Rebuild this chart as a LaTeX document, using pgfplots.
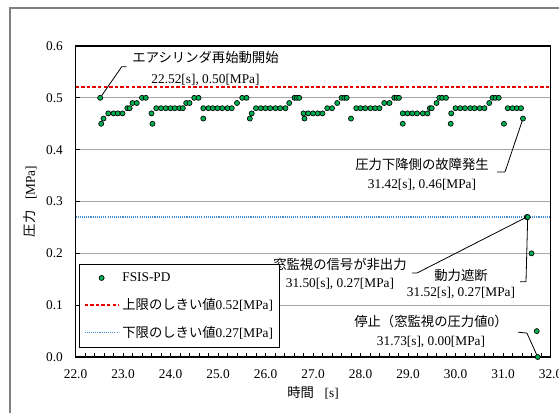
\documentclass[border=0pt]{standalone}
\usepackage{fontspec}
\setmainfont{Liberation Serif}
\newfontfamily\cjk{Noto Sans CJK JP}
\usepackage{pgfplots}
\pgfplotsset{compat=1.18}
\definecolor{markgreen}{RGB}{0,176,80}
\definecolor{upred}{RGB}{230,0,0}
\definecolor{lowblue}{RGB}{70,140,210}
\begin{document}
\begin{tikzpicture}
\useasboundingbox (0pt,0pt) rectangle (419.25pt,309pt);
\draw[black!50, line width=1.5pt] (7.5pt,-2pt) -- (7.5pt,303pt) -- (421pt,303pt);
\begin{axis}[
  at={(56.625pt,41.25pt)}, anchor=south west,
  width=356.25pt, height=233.25pt, scale only axis,
  xmin=22, xmax=32, ymin=0, ymax=0.6,
  xtick={22,23,24,25,26,27,28,29,30,31,32},
  ytick={0,0.1,0.2,0.3,0.4,0.5,0.6},
  minor x tick num=4,
  xtick pos=bottom, ytick pos=left,
  tick align=inside,
  major tick length=3pt, minor tick length=3pt,
  tick style={black, line width=0.6pt},
  ymajorgrids, grid style={black!35, line width=0.8pt},
  axis line style={line width=1pt},
  /pgf/number format/assume math mode=true,
  /pgf/number format/fixed,
  /pgf/number format/fixed zerofill,
  /pgf/number format/precision=1,
  ticklabel style={font=\fontsize{10}{12}\selectfont},
  xticklabel style={yshift=-6pt},
  yticklabel style={xshift=-6pt},
  xlabel={{\cjk 時間}\hspace{0.8em}[s]},
  ylabel={{\cjk 圧力}\hspace{0.8em}[MPa]},
  label style={font=\fontsize{11}{13}\selectfont},
  every axis x label/.style={at={(axis description cs:0.5,0)}, yshift=-27pt, anchor=center},
  every axis y label/.style={at={(axis description cs:0,0.5)}, xshift=-34pt, rotate=90, anchor=center},
  clip=false,
  legend image code/.code={\draw[mark repeat=2,mark phase=2,#1] plot coordinates {(0cm,0cm)(0.45cm,0cm)(0.9cm,0cm)};},
  legend style={at={(0.0074,0.299)}, anchor=north west, draw=black, line width=0.8pt,
    font=\fontsize{10}{12}\selectfont, row sep=7pt, inner xsep=3pt, inner ysep=4pt, fill=white},
  legend cell align=left,
]
\addplot[upred, line width=1.5pt, dash pattern=on 2.6pt off 1.6pt, forget plot] coordinates {(22,0.52) (32,0.52)};
\addplot[lowblue, line width=1pt, dash pattern=on 0.8pt off 0.8pt, forget plot] coordinates {(22,0.27) (32,0.27)};
\addplot[only marks, mark=*, mark size=1.9pt, mark options={fill=markgreen, draw=black, line width=0.5pt}] table {
t p
22.52 0.50
22.54 0.45
22.59 0.46
22.69 0.47
22.80 0.47
22.89 0.47
22.99 0.47
23.09 0.48
23.14 0.48
23.20 0.49
23.29 0.49
23.40 0.50
23.48 0.50
23.60 0.47
23.62 0.45
23.70 0.48
23.80 0.48
23.90 0.48
24.00 0.48
24.09 0.48
24.19 0.48
24.26 0.48
24.33 0.49
24.40 0.49
24.50 0.50
24.59 0.50
24.69 0.48
24.69 0.46
24.80 0.48
24.89 0.48
24.99 0.48
25.09 0.48
25.20 0.48
25.29 0.48
25.40 0.49
25.51 0.50
25.60 0.50
25.67 0.46
25.71 0.47
25.80 0.48
25.90 0.48
26.00 0.48
26.10 0.48
26.21 0.48
26.31 0.48
26.42 0.48
26.50 0.49
26.61 0.50
26.66 0.50
26.71 0.50
26.80 0.47
26.82 0.46
26.90 0.47
27.00 0.47
27.10 0.47
27.20 0.47
27.30 0.48
27.40 0.48
27.51 0.49
27.60 0.50
27.66 0.50
27.71 0.50
27.80 0.46
27.91 0.48
28.00 0.48
28.10 0.48
28.21 0.48
28.31 0.48
28.40 0.48
28.50 0.49
28.61 0.49
28.71 0.50
28.76 0.50
28.81 0.50
28.89 0.47
28.89 0.45
28.99 0.47
29.09 0.47
29.19 0.47
29.31 0.47
29.41 0.47
29.46 0.48
29.50 0.48
29.60 0.49
29.66 0.50
29.72 0.50
29.80 0.50
29.90 0.45
29.91 0.47
30.00 0.48
30.10 0.48
30.20 0.48
30.31 0.48
30.40 0.48
30.51 0.48
30.61 0.48
30.71 0.49
30.78 0.50
30.84 0.50
30.91 0.50
31.02 0.45
31.10 0.48
31.20 0.48
31.29 0.48
31.38 0.48
31.42 0.46
31.50 0.27
31.52 0.27
31.60 0.20
31.71 0.05
31.73 0.00
};
\addlegendentry{FSIS-PD}
\addlegendimage{upred, line width=1.5pt, dash pattern=on 2.6pt off 1.6pt}
\addlegendentry{{\cjk 上限のしきい値}0.52[MPa]}
\addlegendimage{lowblue, line width=1pt, dash pattern=on 0.8pt off 0.8pt}
\addlegendentry{{\cjk 下限のしきい値}0.27[MPa]}

% annotations
\tikzset{ann/.style={font=\fontsize{10}{12}\selectfont, inner sep=0pt, anchor=center}}
\node[ann] at (axis cs:24.737,0.577) {\cjk エアシリンダ再始動開始};
\node[ann] at (axis cs:24.737,0.535) {22.52[s], 0.50[MPa]};
\draw[black, line width=0.6pt] (axis cs:22.52,0.50) -- (axis cs:22.973,0.560) -- (axis cs:23.078,0.560);

\node[ann] at (axis cs:29.295,0.371) {\cjk 圧力下降側の故障発生};
\node[ann] at (axis cs:29.295,0.332) {31.42[s], 0.46[MPa]};
\draw[black, line width=0.6pt] (axis cs:31.42,0.46) -- (axis cs:31.042,0.357) -- (axis cs:30.874,0.357);

\node[ann] at (axis cs:27.568,0.178) {\cjk 窓監視の信号が非出力};
\node[ann] at (axis cs:27.568,0.142) {31.50[s], 0.27[MPa]};
\draw[black, line width=0.6pt] (axis cs:31.50,0.27) -- (axis cs:29.189,0.162) -- (axis cs:29.084,0.162);

\node[ann] at (axis cs:30.116,0.158) {\cjk 動力遮断};
\node[ann] at (axis cs:30.116,0.123) {31.52[s], 0.27[MPa]};
\draw[black, line width=0.6pt] (axis cs:31.52,0.27) -- (axis cs:31.484,0.145) -- (axis cs:31.358,0.145);

\node[ann] at (axis cs:29.484,0.068) {{\cjk 停止（窓監視の圧力値}0{\cjk ）}};
\node[ann] at (axis cs:29.484,0.030) {31.73[s], 0.00[MPa]};
\draw[black, line width=0.6pt] (axis cs:31.316,0.048) -- (axis cs:31.505,0.046) -- (axis cs:31.73,0.00);
\end{axis}
\end{tikzpicture}
\end{document}
